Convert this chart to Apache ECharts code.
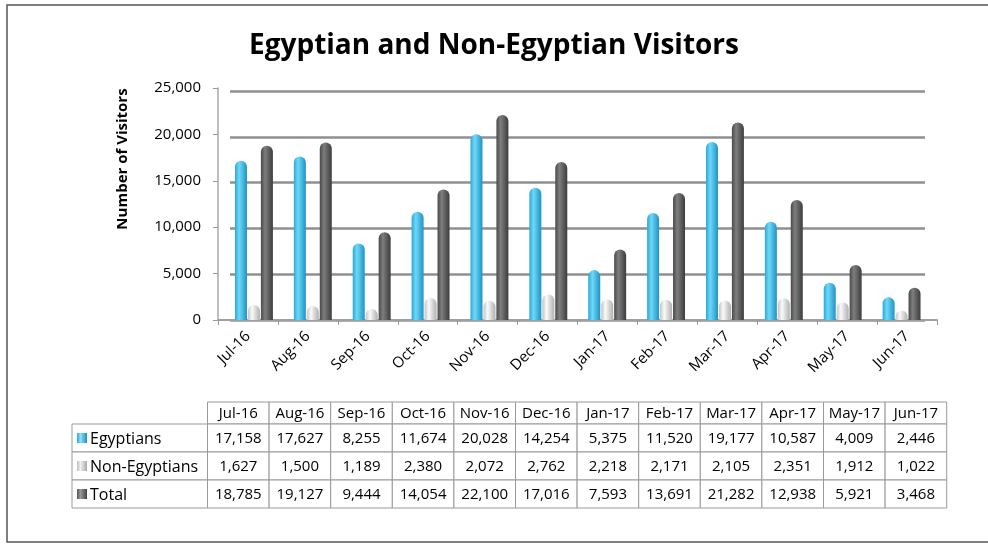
<!DOCTYPE html>
<html>
<head>
<meta charset="utf-8">
<script src="https://cdn.jsdelivr.net/npm/echarts@6/dist/echarts.min.js"></script>
<style>
html,body{margin:0;padding:0;background:#fff;}
#c{width:988px;height:545px;}
</style>
</head>
<body>
<div id="c"></div>
<script>
var categories = ['Jul-16','Aug-16','Sep-16','Oct-16','Nov-16','Dec-16','Jan-17','Feb-17','Mar-17','Apr-17','May-17','Jun-17'];
var egyptians = [17158,17627,8255,11674,20028,14254,5375,11520,19177,10587,4009,2446];
var nonEgyptians = [1627,1500,1189,2380,2072,2762,2218,2171,2105,2351,1912,1022];
var totals = [18785,19127,9444,14054,22100,17016,7593,13691,21282,12938,5921,3468];
var seriesNames = ['Egyptians','Non-Egyptians','Total'];
var yTicks = [0,5000,10000,15000,20000,25000];

var FONT = 'Open Sans';
function fmt(v){return v.toString().replace(/\B(?=(\d{3})+(?!\d))/g, ',');}

function cyl(c1,c2,c3){
  return new echarts.graphic.LinearGradient(0,0,1,0,[
    {offset:0,color:c1},{offset:0.35,color:c2},{offset:1,color:c3}]);
}
var colors = [
  cyl('#2aa8d8','#6fd8f8','#1e93c4'),
  cyl('#c4c4c4','#fafafa','#b0b0b0'),
  cyl('#4a4a4a','#7e7e7e','#3c3c3c')
];
var keyColors = [
  cyl('#2aa6d6','#8fe0f8','#1f8fbf'),
  cyl('#bdbdbd','#f0f0f0','#aaaaaa'),
  cyl('#555','#999','#444')
];
var dataRows = [egyptians, nonEgyptians, totals];

// table geometry
var tLeft = 72, tLabelW = 135.5, tColW = 61.6, tTop = 402, tHeadH = 22, tRowH = 28;
var TF = '15px "'+FONT+'"';
var LF = '16px "'+FONT+'"';
var graphics = [];
graphics.push({type:'rect', shape:{x:7,y:5,width:990,height:537}, style:{fill:'none',stroke:'#555',lineWidth:1.5}});
graphics.push({type:'text', x:123, y:159, rotation:Math.PI/2,
  style:{text:'Number of Visitors',font:'bold 15px "'+FONT+'"',fill:'#000',align:'center',verticalAlign:'middle'}});
var x0 = tLeft + tLabelW;
categories.forEach(function(c,i){
  graphics.push({type:'rect', shape:{x:x0+i*tColW,y:tTop,width:tColW,height:tHeadH}, style:{fill:'#fff',stroke:'#999',lineWidth:1}});
  graphics.push({type:'text', x:x0+i*tColW+tColW/2, y:tTop+tHeadH/2+1, style:{text:c,font:TF,fill:'#000',align:'center',verticalAlign:'middle'}});
});
dataRows.forEach(function(row,r){
  var y = tTop + tHeadH + r*tRowH;
  graphics.push({type:'rect', shape:{x:tLeft,y:y,width:tLabelW,height:tRowH}, style:{fill:'#fff',stroke:'#999',lineWidth:1}});
  graphics.push({type:'rect', shape:{x:tLeft+5,y:y+tRowH/2-5,width:10,height:10}, style:{fill:keyColors[r]}});
  graphics.push({type:'text', x:tLeft+18, y:y+tRowH/2+1, style:{text:seriesNames[r],font:LF,fill:'#000',align:'left',verticalAlign:'middle'}});
  row.forEach(function(v,i){
    graphics.push({type:'rect', shape:{x:x0+i*tColW,y:y,width:tColW,height:tRowH}, style:{fill:'#fff',stroke:'#999',lineWidth:1}});
    graphics.push({type:'text', x:x0+i*tColW+tColW/2, y:y+tRowH/2+1, style:{text:fmt(v),font:TF,fill:'#000',align:'center',verticalAlign:'middle'}});
  });
});

var TOP = 88, BOTTOM = 225;
var chart = echarts.init(document.getElementById('c'), null, {renderer:'canvas'});
chart.setOption({
  backgroundColor:'#fff',
  animation:false,
  title:{
    text:'Egyptian and Non-Egyptian Visitors',
    left:'center', top:27,
    textStyle:{fontFamily:FONT,fontWeight:'bold',fontSize:28,color:'#000'}
  },
  grid:[
    {left:218,right:51,top:TOP,bottom:BOTTOM},   // front axes
    {left:230,right:63,top:TOP+3,bottom:BOTTOM}, // back wall gridlines
    {left:224.5,right:57,top:TOP,bottom:BOTTOM}  // bars
  ],
  xAxis:[
    {gridIndex:0, type:'category', data:categories,
     axisLine:{show:true,lineStyle:{color:'#a0a0a0',width:2}},
     axisTick:{show:true,length:5,lineStyle:{color:'#999'}},
     axisLabel:{rotate:45,margin:14,fontFamily:FONT,fontSize:15,color:'#000'}},
    {gridIndex:1, type:'category', data:categories, show:false},
    {gridIndex:2, type:'category', data:categories, show:false}
  ],
  yAxis:[
    {gridIndex:0, type:'value', min:0, max:25000, interval:5000,
     axisLine:{show:true,lineStyle:{color:'#aaa',width:1.5}},
     axisTick:{show:true,length:5,lineStyle:{color:'#999'}},
     axisLabel:{fontFamily:FONT,fontSize:15,color:'#000',margin:17,
       formatter:function(v){return yTicks.indexOf(v)>=0?fmt(v):'';}},
     splitLine:{show:false}},
    {gridIndex:1, type:'value', min:0, max:25000, interval:5000,
     axisLine:{show:false}, axisTick:{show:false}, axisLabel:{show:false},
     splitLine:{show:true,lineStyle:{color:'#8f8f8f',width:2.5}}},
    {gridIndex:2, type:'value', min:0, max:25000, interval:5000, show:false,
     splitLine:{show:false}}
  ],
  series: dataRows.map(function(row,r){
    return {
      name:seriesNames[r], type:'bar', data:row,
      xAxisIndex:2, yAxisIndex:2,
      barWidth:12, barGap:'8%',
      itemStyle:{color:colors[r], borderRadius:[6,6,0,0]}
    };
  }),
  graphic: graphics
});
</script>
</body>
</html>
